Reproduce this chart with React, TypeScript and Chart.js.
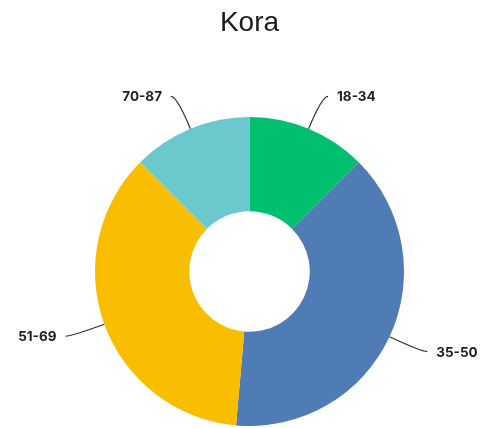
import React, { useEffect, useRef } from "react";
import { Chart, registerables } from "chart.js";

Chart.register(...registerables);

const categories = ["18-34", "35-50", "51-69", "70-87"];
const counts = [9, 28, 26, 9];
const colors = ["#00BF6F", "#507CB6", "#F9BE00", "#6BC8CD"];
const titleText = "Kora";

const outLabels = {
  id: "outLabels",
  afterDatasetsDraw(chart: any) {
    const ctx = chart.ctx;
    const meta = chart.getDatasetMeta(0);
    const labels = chart.data.labels as string[];
    ctx.save();
    meta.data.forEach((arc: any, i: number) => {
      const p = arc.getProps(["x", "y", "startAngle", "endAngle", "outerRadius"], true);
      const mid = (p.startAngle + p.endAngle) / 2;
      const c = Math.cos(mid);
      const s = Math.sin(mid);
      const x0 = p.x + p.outerRadius * c;
      const y0 = p.y + p.outerRadius * s;
      const x1 = x0 + 35 * c;
      const y1 = y0 + 35 * s;
      const dir = c >= 0 ? 1 : -1;
      const x2 = x1 + dir * 6;
      const y2 = y1;
      ctx.beginPath();
      ctx.moveTo(x0, y0);
      ctx.quadraticCurveTo(x1, y1, x2, y2);
      ctx.strokeStyle = "#2a2a2a";
      ctx.lineWidth = 1.1;
      ctx.stroke();
      ctx.font = "bold 13.5px Inter";
      ctx.fillStyle = "#222";
      ctx.textBaseline = "middle";
      ctx.textAlign = dir > 0 ? "left" : "right";
      ctx.fillText(labels[i], x2 + dir * 9, y2 + 1);
    });
    ctx.restore();
  },
};

export default function App() {
  const ref = useRef<HTMLCanvasElement>(null);
  useEffect(() => {
    if (!ref.current) return;
    const chart = new Chart(ref.current, {
      type: "doughnut",
      data: {
        labels: categories,
        datasets: [
          {
            data: counts,
            backgroundColor: colors,
            borderWidth: 0,
          },
        ],
      },
      options: {
        responsive: false,
        animation: false,
        cutout: "39%",
        layout: { padding: { top: 0, bottom: 2, left: 20, right: 5 } },
        plugins: {
          legend: { display: false },
          tooltip: { enabled: false },
          title: {
            display: true,
            text: titleText,
            color: "#1a1a1a",
            font: { family: "Liberation Sans", size: 28, weight: "normal" },
            padding: { top: 6, bottom: 77.4 },
          },
        },
      },
      plugins: [outLabels],
    });
    return () => chart.destroy();
  }, []);
  return (
    <div style={{ position: "fixed", left: 0, top: 0, width: 484, height: 428, background: "#fff" }}>
      <canvas ref={ref} width={484} height={428} style={{ width: 484, height: 428, display: "block" }} />
    </div>
  );
}
